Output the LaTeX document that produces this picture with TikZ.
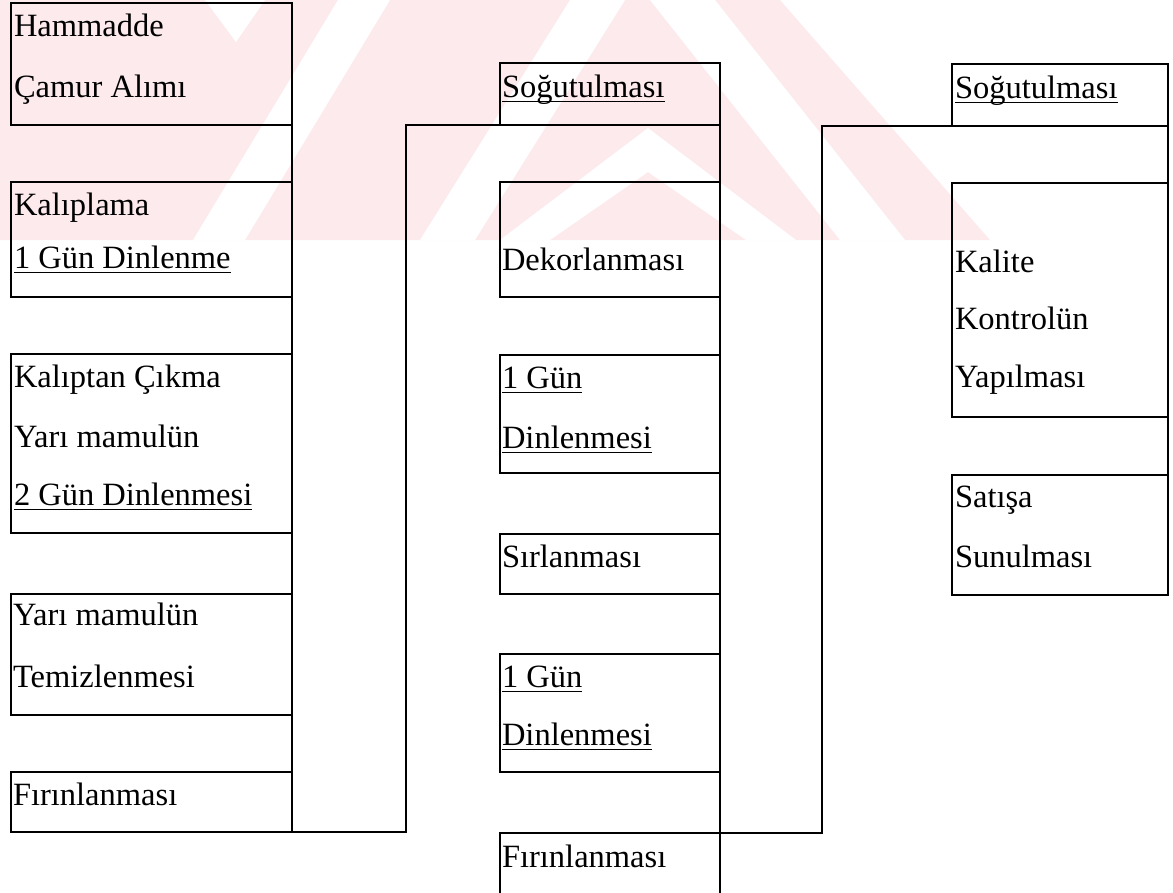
\documentclass[tikz,border=0pt]{standalone}
\usepackage{fontspec}
\setmainfont{Liberation Serif}
\definecolor{wm}{RGB}{253,234,237}
\newcommand\ulin[1]{\setbox0\hbox{#1}\rlap{\rule[-5pt]{\wd0}{1.5pt}}\box0}
\begin{document}
\begin{tikzpicture}[x=1pt,y=-1pt,
  box/.style={draw, line width=2.8pt, inner sep=0pt, outer sep=0pt, anchor=north west},
  lbl/.style={anchor=base west, inner sep=0pt, outer sep=0pt, font=\fontsize{32.5}{38}\selectfont},
  link/.style={line width=2.8pt, line cap=rect}]
\clip (0,0) rectangle (1173,892);
% watermark
\fill[wm] (0,0) -- (780,0) -- (990,240) -- (0,240) -- cycle;
\fill[white] (193,240) -- (245,240) -- (390,0) -- (338,0) -- cycle;
\fill[white] (205,0) -- (265,0) -- (236,42) -- cycle;
\fill[white] (420,240) -- (475,240) -- (625,0) -- (570,0) -- cycle;
\fill[white] (500,240) -- (648,128) -- (796,240) -- (746,240) -- (648,172) -- (550,240) -- cycle;
\fill[white] (650,0) -- (715,0) -- (905,240) -- (840,240) -- cycle;
% column 1
\node[box, minimum width=281pt, minimum height=122pt] (B1) at (11,3) {};
\node[box, minimum width=281pt, minimum height=115pt] (B2) at (11,182) {};
\node[box, minimum width=281pt, minimum height=179pt] (B3) at (11,354) {};
\node[box, minimum width=281pt, minimum height=121pt] (B4) at (11,594) {};
\node[box, minimum width=281pt, minimum height=60pt] (B5) at (11,772) {};
% column 2
\node[box, minimum width=220pt, minimum height=62pt] (S2) at (500,63) {};
\node[box, minimum width=220pt, minimum height=115pt] (D) at (500,182) {};
\node[box, minimum width=220pt, minimum height=118pt] (G1) at (500,355) {};
\node[box, minimum width=220pt, minimum height=60pt] (Sr) at (500,534) {};
\node[box, minimum width=220pt, minimum height=118pt] (G2) at (500,654) {};
\node[box, minimum width=220pt, minimum height=80pt] (F2) at (500,833) {};
% column 3
\node[box, minimum width=216pt, minimum height=62pt] (S3) at (952,64) {};
\node[box, minimum width=216pt, minimum height=234pt] (K) at (952,183) {};
\node[box, minimum width=216pt, minimum height=120pt] (Sa) at (952,475) {};
% connectors
\draw[link] (B1.south east) -- (B2.north east);
\draw[link] (B2.south east) -- (B3.north east);
\draw[link] (B3.south east) -- (B4.north east);
\draw[link] (B4.south east) -- (B5.north east);
\coordinate (j1) at (406,832);
\draw[link] (B5.south east) -- (j1) |- (S2.south west);
\draw[link] (S2.south east) -- (D.north east);
\draw[link] (D.south east) -- (G1.north east);
\draw[link] (G1.south east) -- (Sr.north east);
\draw[link] (Sr.south east) -- (G2.north east);
\draw[link] (G2.south east) -- (F2.north east);
\coordinate (j2) at (822,833);
\draw[link] (F2.north east) -- (j2) |- (S3.south west);
\draw[link] (S3.south east) -- (K.north east);
\draw[link] (K.south east) -- (Sa.north east);
% texts column 1
\node[lbl] (t1) at (14,36) {Hammadde};
\node[lbl] (t2) at (14,97) {Çamur Alımı};
\node[lbl] (t3) at (14,215) {Kalıplama};
\node[lbl] (t4) at (14,268) {\ulin{1 Gün Dinlenme}};
\node[lbl] (t5) at (14,387) {Kalıptan Çıkma};
\node[lbl] (t6) at (14,447) {Yarı mamulün};
\node[lbl] (t7) at (14,505) {\ulin{2 Gün Dinlenmesi}};
\node[lbl] (t8) at (13,625) {Yarı mamulün};
\node[lbl] (t9) at (13,687) {Temizlenmesi};
\node[lbl] (t10) at (13,805) {Fırınlanması};
% texts column 2
\node[lbl] (u1) at (502,97) {\ulin{Soğutulması}};
\node[lbl] (u2) at (502,270) {Dekorlanması};
\node[lbl] (u3) at (502,388) {\ulin{1 Gün}};
\node[lbl] (u4) at (502,448) {\ulin{Dinlenmesi}};
\node[lbl] (u5) at (502,567) {Sırlanması};
\node[lbl] (u6) at (502,687) {\ulin{1 Gün}};
\node[lbl] (u7) at (502,745) {\ulin{Dinlenmesi}};
\node[lbl] (u8) at (502,867) {Fırınlanması};
% texts column 3
\node[lbl] (v1) at (955,98) {\ulin{Soğutulması}};
\node[lbl] (v2) at (955,272) {Kalite};
\node[lbl] (v3) at (955,329) {Kontrolün};
\node[lbl] (v4) at (955,387) {Yapılması};
\node[lbl] (v5) at (955,507) {Satışa};
\node[lbl] (v6) at (955,567) {Sunulması};
\end{tikzpicture}
\end{document}
